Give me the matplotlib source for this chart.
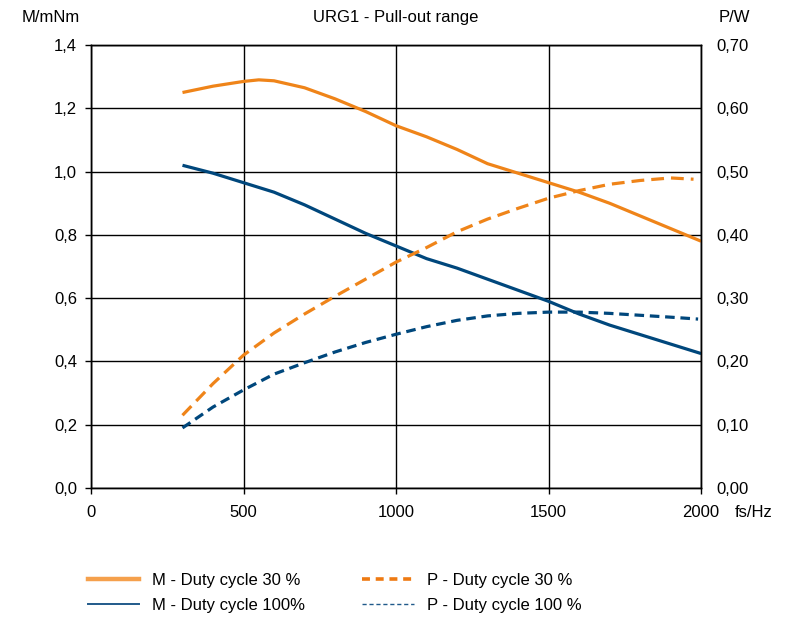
import matplotlib
matplotlib.use("Agg")
import matplotlib.pyplot as plt
from matplotlib.lines import Line2D
from matplotlib.ticker import FuncFormatter

plt.rcParams['font.family'] = ['Liberation Sans', 'DejaVu Sans']

# Pull-out torque (left axis, mNm) and power (right axis, W) vs. step frequency
freq_m = [300, 400, 500, 550, 600, 700, 800, 900, 1000, 1100, 1200, 1300,
          1400, 1500, 1600, 1700, 1800, 1900, 2000]
torque_30 = [1.25, 1.27, 1.285, 1.29, 1.287, 1.265, 1.23, 1.19, 1.145, 1.11,
             1.07, 1.025, 0.995, 0.965, 0.935, 0.90, 0.86, 0.82, 0.78]

freq_m100 = [300, 400, 500, 600, 700, 800, 900, 1000, 1100, 1200, 1300,
             1400, 1500, 1600, 1700, 1800, 1900, 2000]
torque_100 = [1.02, 0.995, 0.965, 0.935, 0.895, 0.85, 0.805, 0.765, 0.725,
              0.695, 0.66, 0.625, 0.59, 0.55, 0.515, 0.485, 0.455, 0.425]

freq_p30 = [300, 400, 500, 600, 700, 800, 900, 1000, 1100, 1200, 1300,
            1400, 1500, 1600, 1700, 1800, 1900, 1975]
power_30 = [0.115, 0.165, 0.21, 0.245, 0.275, 0.303, 0.33, 0.357, 0.38,
            0.405, 0.425, 0.442, 0.458, 0.47, 0.48, 0.486, 0.49, 0.488]

freq_p100 = [300, 400, 500, 600, 700, 800, 900, 1000, 1100, 1200, 1300,
             1400, 1500, 1600, 1700, 1800, 1900, 1990]
power_100 = [0.095, 0.128, 0.155, 0.18, 0.198, 0.215, 0.23, 0.243, 0.255,
             0.265, 0.272, 0.276, 0.278, 0.278, 0.276, 0.273, 0.27, 0.267]

x_ticks = [0, 500, 1000, 1500, 2000]
m_ticks = [0.0, 0.2, 0.4, 0.6, 0.8, 1.0, 1.2, 1.4]
p_ticks = [0.0, 0.1, 0.2, 0.3, 0.4, 0.5, 0.6, 0.7]

# legend entries, column by column
labels = ["M - Duty cycle 30 %", "M - Duty cycle 100%",
          "P - Duty cycle 30 %", "P - Duty cycle 100 %"]

ORANGE = "#EF8419"
BLUE = "#00477C"

fig = plt.figure(figsize=(8.05, 6.17), dpi=100)
ax = fig.add_axes([0.113, 0.209, 0.758, 0.718])
ax2 = ax.twinx()

ax.set_xlim(0, 2000)
ax.set_ylim(0, 1.4)
ax2.set_ylim(0, 0.7)

ax.set_xticks(x_ticks)
ax.set_yticks(m_ticks)
ax2.set_yticks(p_ticks)
ax.yaxis.set_major_formatter(FuncFormatter(lambda v, p: f"{v:.1f}".replace(".", ",")))
ax2.yaxis.set_major_formatter(FuncFormatter(lambda v, p: f"{v:.2f}".replace(".", ",")))

ax.grid(True, color="black", linewidth=1.0)
ax.set_axisbelow(True)
for a in (ax, ax2):
    for s in a.spines.values():
        s.set_color("black")
        s.set_linewidth(1.0)

ax.tick_params(axis="y", direction="out", length=4, width=1, labelsize=12, pad=6)
ax.tick_params(axis="x", direction="out", length=4, width=1, labelsize=12, pad=8)
ax2.tick_params(axis="y", length=0, labelsize=12, pad=11)

ax.plot(freq_m, torque_30, color=ORANGE, lw=2.3, solid_capstyle="butt")
ax.plot(freq_m100, torque_100, color=BLUE, lw=2.3, solid_capstyle="butt")
ax2.plot(freq_p30, power_30, color=ORANGE, lw=2.3, dashes=(4, 2.2))
ax2.plot(freq_p100, power_100, color=BLUE, lw=2.3, dashes=(3, 1.8))

fig.text(0.027, 0.972, "M/mNm", fontsize=12, ha="left", va="center")
fig.text(0.492, 0.972, "URG1 - Pull-out range", fontsize=12, ha="center", va="center")
fig.text(0.893, 0.972, "P/W", fontsize=12, ha="left", va="center")
fig.text(0.913, 0.169, "fs/Hz", fontsize=12, ha="left", va="center")

handles = [
    Line2D([], [], color="#F5A04C", lw=3.2),
    Line2D([], [], color="#205A8A", lw=1.4),
    Line2D([], [], color="#EE7A12", lw=2.6, dashes=(2.2, 1.6)),
    Line2D([], [], color="#205A8A", lw=1.0, dashes=(3, 2)),
]
fig.legend(handles, labels, ncol=2, frameon=False, fontsize=12,
           loc="upper left", bbox_to_anchor=(0.109, 0.072),
           handlelength=3.1, handletextpad=0.75, columnspacing=3.45,
           labelspacing=0.6, borderaxespad=0, borderpad=0)

fig.savefig("out.png", dpi=100)
